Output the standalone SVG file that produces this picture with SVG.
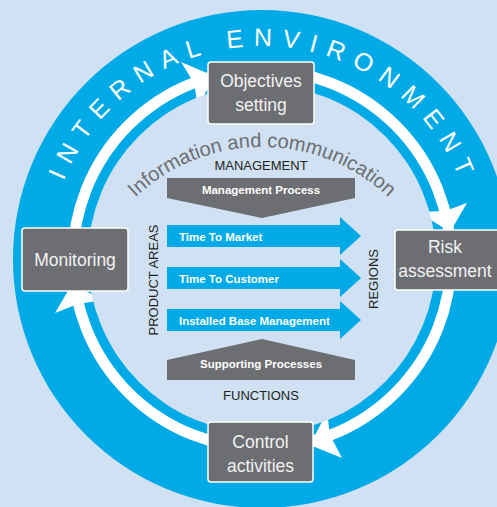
<svg xmlns="http://www.w3.org/2000/svg" width="497" height="507" viewBox="0 0 497 507">
<style>
.box{fill:#6d6e71;stroke:#ffffff;stroke-width:1.5}
.bt{font-family:"Liberation Sans",Arial,sans-serif;font-size:17.5px;fill:#f2f2f2;text-anchor:middle}
.lab{font-family:"Liberation Sans",Arial,sans-serif;font-size:13px;fill:#231f20;text-anchor:middle}
.wb{font-family:"Liberation Sans",Arial,sans-serif;font-size:11.5px;font-weight:bold;fill:#ffffff}
.gp{fill:#6d6e71}
.ba{fill:#00aae6}
.head{fill:#ffffff}
</style>
<defs>
<path id="envPath" d="M 49 259 A 213 213 0 0 1 475 259"/>
<path id="infoPath" d="M 78 331 A 184 184 0 0 1 446 331"/>
</defs>
<rect x="0" y="0" width="497" height="507" fill="#cfe1f2"/>
<g id="environment">
<circle cx="262" cy="259" r="249" fill="#00aae6"/>
<text font-family="'Liberation Sans',Arial,sans-serif" font-size="25" fill="#ffffff" letter-spacing="10" text-anchor="middle"><textPath href="#envPath" startOffset="50.4%">INTERNAL ENVIRONMENT</textPath></text>
</g>
<g id="connectors">
<circle cx="262" cy="259" r="189" fill="none" stroke="#ffffff" stroke-width="11"/>
<polygon class="head" points="181,62 214,76 198,108 194,83"/>
<polygon class="head" points="467,203 450,232 418,212 445,211"/>
<polygon class="head" points="342,458 310,445 327,412 330,435"/>
<polygon class="head" points="55,313 72,284 103,300 78,304"/>
</g>
<g id="interior">
<circle cx="262" cy="259" r="174" fill="#cfe1f2"/>
<text font-family="'Liberation Sans',Arial,sans-serif" font-size="20" fill="#6d6e71" text-anchor="middle"><textPath href="#infoPath" startOffset="50%">Information and communication</textPath></text>
</g>
<g id="management">
<text class="lab" x="261" y="170">MANAGEMENT</text>
<polygon class="gp" points="167,178 355,178 355,198 262,218 167,198"/>
<text class="wb" x="261" y="194" text-anchor="middle">Management Process</text>
</g>
<g id="time-to-market">
<polygon class="ba" points="167,225 340,225 340,217 361,236 340,255 340,247 167,247"/>
<text class="wb" x="179" y="241">Time To Market</text>
</g>
<g id="time-to-customer">
<polygon class="ba" points="167,267 340,267 340,259 361,278 340,297 340,289 167,289"/>
<text class="wb" x="179" y="283">Time To Customer</text>
</g>
<g id="installed-base">
<polygon class="ba" points="167,309 340,309 340,301 361,320 340,339 340,331 167,331"/>
<text class="wb" x="179" y="325">Installed Base Management</text>
</g>
<g id="supporting">
<polygon class="gp" points="262,339 355,360 355,380 167,380 167,360"/>
<text class="wb" x="261" y="368" text-anchor="middle">Supporting Processes</text>
<text class="lab" x="261" y="400">FUNCTIONS</text>
</g>
<g id="product-areas">
<text class="lab" x="158" y="280" transform="rotate(-90 158 280)">PRODUCT AREAS</text>
</g>
<g id="regions">
<text class="lab" x="378" y="279" transform="rotate(-90 378 279)">REGIONS</text>
</g>
<g id="objectives">
<rect class="box" x="208" y="62" width="106" height="62" rx="3"/>
<text class="bt" x="261" y="87">Objectives</text>
<text class="bt" x="261" y="111">setting</text>
</g>
<g id="risk">
<rect class="box" x="395" y="230" width="112" height="60" rx="3"/>
<text class="bt" x="445" y="253">Risk</text>
<text class="bt" x="445" y="277">assessment</text>
</g>
<g id="monitoring">
<rect class="box" x="22" y="228" width="106" height="63" rx="3"/>
<text class="bt" x="75" y="266">Monitoring</text>
</g>
<g id="control">
<rect class="box" x="208" y="422" width="105" height="60" rx="3"/>
<text class="bt" x="260.5" y="448">Control</text>
<text class="bt" x="260.5" y="472">activities</text>
</g>
</svg>
